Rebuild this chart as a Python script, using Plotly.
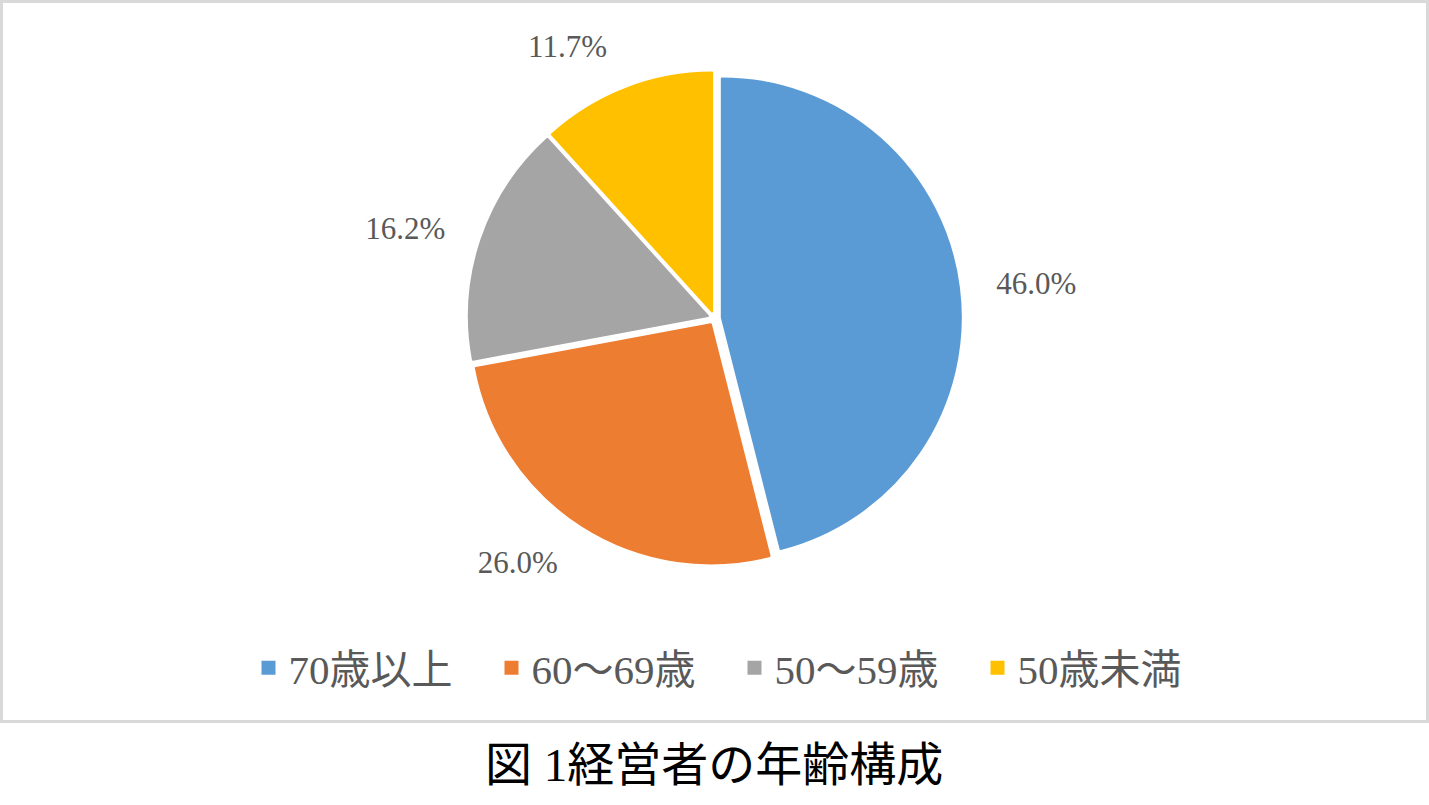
import plotly.graph_objects as go

# ---- data ----
categories = ["70歳以上", "60～69歳", "50～59歳", "50歳未満"]
shares = [46.0, 26.0, 16.2, 11.7]
colors = ["#5B9BD5", "#ED7D31", "#A5A5A5", "#FFC000"]
caption = "図 1経営者の年齢構成"

W, H = 1429, 805
cx, cy = 714.7, 318.3          # pie centre (px)
r_pie = 239                    # pie radius (px)
pull = 0.03
r_lab = 275                    # radius used to place the outside labels

def dom(half):
    return dict(x=[(cx - half) / W, (cx + half) / W],
                y=[1 - (cy + half) / H, 1 - (cy - half) / H])

lab_font = "Liberation Serif, Noto Sans CJK JP, serif"

fig = go.Figure()
fig.add_trace(go.Pie(
    labels=categories, values=shares, sort=False, direction="clockwise",
    rotation=0, pull=[pull] * len(shares),
    marker=dict(colors=colors, line=dict(width=2, color=colors)),
    textinfo="none", hoverinfo="label+value",
    domain=dom(r_pie * (1 + pull)), showlegend=True,
))
# transparent copy, only used to carry the percentage labels a bit further out
fig.add_trace(go.Pie(
    labels=categories, values=shares, sort=False, direction="clockwise",
    rotation=0,
    marker=dict(colors=["rgba(0,0,0,0)"] * len(shares), line=dict(width=0)),
    texttemplate="%{value:.1f}%", textposition="outside",
    textfont=dict(family=lab_font, size=31, color="#595959"),
    hoverinfo="skip", domain=dom(r_lab), showlegend=False,
))

fig.update_layout(
    width=W, height=H,
    margin=dict(l=0, r=0, t=0, b=0),
    paper_bgcolor="white", plot_bgcolor="white",
    font=dict(family=lab_font, size=41, color="#595959"),
    showlegend=True,
    legend=dict(orientation="h", x=(714.5 + 20) / W, xanchor="center",
                y=1 - 668 / H, yanchor="middle",
                font=dict(family=lab_font, size=41, color="#595959"),
                entrywidth=198, entrywidthmode="pixels",
                traceorder="normal", itemclick=False),
    shapes=[dict(type="rect", xref="paper", yref="paper",
                 x0=1.5 / W, x1=1427.5 / W, y0=1 - 721.5 / H, y1=1 - 1.5 / H,
                 line=dict(color="#D9D9D9", width=3), fillcolor="rgba(0,0,0,0)",
                 layer="below")],
    annotations=[dict(text=caption, xref="paper", yref="paper",
                      x=714 / W, y=1 - 765 / H, xanchor="center", yanchor="middle",
                      showarrow=False,
                      font=dict(family="Liberation Serif, Noto Sans CJK JP, serif",
                                size=47, color="black"))],
)

fig.write_html("out.html", config={"displayModeBar": False},
               post_script="document.body.style.margin='0px';document.body.style.padding='0px';")
